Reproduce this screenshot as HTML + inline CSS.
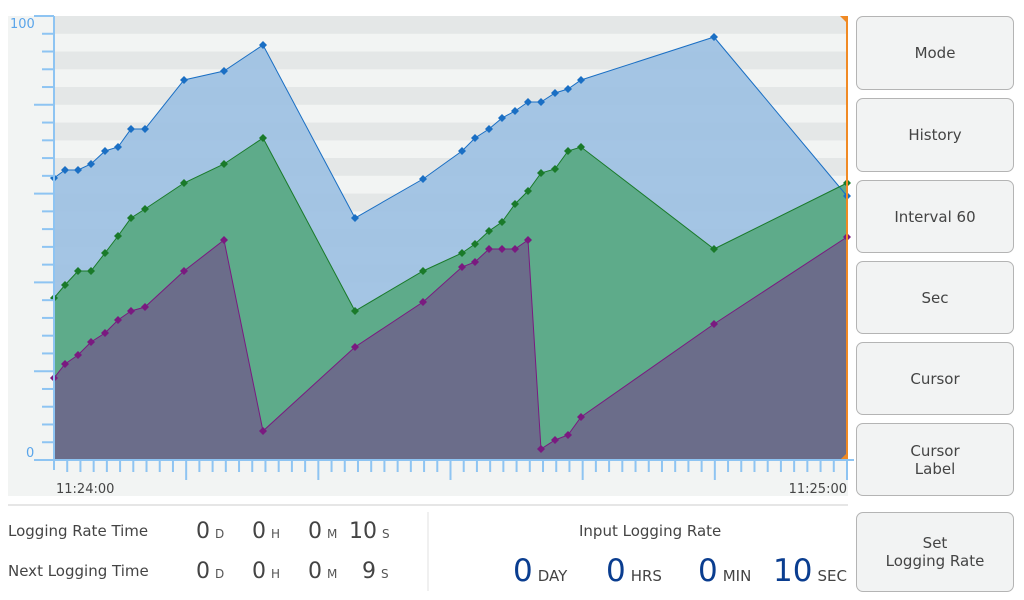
<!DOCTYPE html>
<html><head><meta charset="utf-8"><style>
body{margin:0;width:1024px;height:600px;background:#fff;font-family:"DejaVu Sans","Liberation Sans",sans-serif;position:relative;overflow:hidden}
.btn{position:absolute;left:856px;width:158px;border:1px solid #b4b4b4;border-radius:7px;background:#f2f3f3;color:#444;font-size:15px;display:flex;align-items:center;justify-content:center;text-align:center;line-height:18px;box-sizing:border-box}
.t{position:absolute;color:#444;font-size:15px;white-space:nowrap}
.n{font-size:22px;color:#444}
.u{font-size:12px;color:#555;margin-left:5px}
.b{font-size:31px;color:#0a3d8f}
.bu{font-size:15px;color:#444;margin-left:5px}
</style></head><body>
<svg width="1024" height="600" style="position:absolute;left:0;top:0">
<rect x="8" y="16" width="840" height="480" fill="#f2f4f3"/>
<g fill="#e4e7e7">
<rect x="54" y="16" width="793" height="17.8"/><rect x="54" y="51.5" width="793" height="17.8"/><rect x="54" y="87" width="793" height="17.8"/><rect x="54" y="122.6" width="793" height="17.8"/><rect x="54" y="158" width="793" height="17.8"/><rect x="54" y="193.6" width="793" height="17.8"/><rect x="54" y="229" width="793" height="17.8"/><rect x="54" y="264.7" width="793" height="17.8"/><rect x="54" y="300" width="793" height="17.8"/><rect x="54" y="335.8" width="793" height="17.8"/><rect x="54" y="371" width="793" height="17.8"/><rect x="54" y="406.9" width="793" height="17.8"/><rect x="54" y="442" width="793" height="17.8"/>
</g>
<polygon fill="#9fc2e3" fill-opacity="0.95" points="54,460 54,178 65,170 78,170 91,164 105,151 118,147 131,129 145,129 184,80 224,71 263,45 355,218 423,179 462,151 475,138 489,129 502,118 515,111 528,102 541,102 555,93 568,89 581,80 714,37 847,196 847,460"/>
<polygon fill="#5eab8a" points="54,460 54,298 65,285 78,271 91,271 105,253 118,236 131,218 145,209 184,183 224,164 263,138 355,311 423,271 462,253 475,244 489,231 502,222 515,204 528,191 541,173 555,169 568,151 581,147 714,249 847,183 847,460"/>
<polygon fill="#6b6d8a" points="54,460 54,378 65,364 78,355 91,342 105,333 118,320 131,311 145,307 184,271 224,240 263,431 355,347 423,302 462,267 475,262 489,249 502,249 515,249 528,240 541,449 555,440 568,435 581,417 714,324 847,237 847,460"/>
<g fill="none" stroke-width="1">
<polyline stroke="#1a6fc4" points="54,178 65,170 78,170 91,164 105,151 118,147 131,129 145,129 184,80 224,71 263,45 355,218 423,179 462,151 475,138 489,129 502,118 515,111 528,102 541,102 555,93 568,89 581,80 714,37 847,196"/>
<polyline stroke="#1a7a2a" points="54,298 65,285 78,271 91,271 105,253 118,236 131,218 145,209 184,183 224,164 263,138 355,311 423,271 462,253 475,244 489,231 502,222 515,204 528,191 541,173 555,169 568,151 581,147 714,249 847,183"/>
<polyline stroke="#7a1a80" points="54,378 65,364 78,355 91,342 105,333 118,320 131,311 145,307 184,271 224,240 263,431 355,347 423,302 462,267 475,262 489,249 502,249 515,249 528,240 541,449 555,440 568,435 581,417 714,324 847,237"/>
</g>
<g id="m"></g>
<line x1="847" y1="16" x2="847" y2="460" stroke="#f08a24" stroke-width="2"/>
<polygon points="840,16 848,16 848,24" fill="#f08a24"/>
<polygon points="840,460 848,460 848,452" fill="#f08a24"/>
<g stroke="#8ec4f2" stroke-width="2" id="ax">
<line x1="54" y1="16" x2="54" y2="470"/>
<line x1="34" y1="16" x2="54" y2="16"/>
<line x1="34" y1="460" x2="854" y2="460"/>
</g>
<text x="10" y="28" fill="#5aa5ea" font-size="13" font-family="DejaVu Sans">100</text>
<text x="26" y="457" fill="#5aa5ea" font-size="13" font-family="DejaVu Sans">0</text>
<text x="56" y="493" fill="#444" font-size="13" font-family="DejaVu Sans">11:24:00</text>
<text x="847" y="493" fill="#444" font-size="13" font-family="DejaVu Sans" text-anchor="end">11:25:00</text>
<line x1="8" y1="505" x2="848" y2="505" stroke="#e6e6e6" stroke-width="2"/>
<line x1="428" y1="512" x2="428" y2="591" stroke="#e0e0e0" stroke-width="1"/>
</svg>
<script>
var ns="http://www.w3.org/2000/svg",ax=document.getElementById('ax'),m=document.getElementById('m');
for(var i=1;i<25;i++){var y=16+i*444/25,l=document.createElementNS(ns,'line');var maj=(i%5==0);l.setAttribute('x1',maj?34:42);l.setAttribute('x2',54);l.setAttribute('y1',y);l.setAttribute('y2',y);ax.appendChild(l);}
for(var i=1;i<=60;i++){var x=54+i*793/60,l=document.createElementNS(ns,'line');l.setAttribute('x1',x);l.setAttribute('x2',x);l.setAttribute('y1',460);l.setAttribute('y2',i%10==0?480:472);ax.appendChild(l);}
var S=[["#1a6fc4","54,178 65,170 78,170 91,164 105,151 118,147 131,129 145,129 184,80 224,71 263,45 355,218 423,179 462,151 475,138 489,129 502,118 515,111 528,102 541,102 555,93 568,89 581,80 714,37 847,196"],["#1a7a2a","54,298 65,285 78,271 91,271 105,253 118,236 131,218 145,209 184,183 224,164 263,138 355,311 423,271 462,253 475,244 489,231 502,222 515,204 528,191 541,173 555,169 568,151 581,147 714,249 847,183"],["#7a1a80","54,378 65,364 78,355 91,342 105,333 118,320 131,311 145,307 184,271 224,240 263,431 355,347 423,302 462,267 475,262 489,249 502,249 515,249 528,240 541,449 555,440 568,435 581,417 714,324 847,237"]];
S.forEach(function(s){s[1].split(' ').forEach(function(p){var a=p.split(','),x=+a[0],y=+a[1],g=document.createElementNS(ns,'polygon');g.setAttribute('points',(x-4)+','+y+' '+x+','+(y-4)+' '+(x+4)+','+y+' '+x+','+(y+4));g.setAttribute('fill',s[0]);m.appendChild(g);});});
</script>
<div class="btn" style="top:16px;height:74px">Mode</div>
<div class="btn" style="top:98px;height:74px">History</div>
<div class="btn" style="top:180px;height:73px">Interval 60</div>
<div class="btn" style="top:261px;height:73px">Sec</div>
<div class="btn" style="top:342px;height:73px">Cursor</div>
<div class="btn" style="top:423px;height:73px">Cursor<br>Label</div>
<div class="btn" style="top:512px;height:80px">Set<br>Logging Rate</div>
<div class="t" style="left:8px;top:522px">Logging Rate Time</div>
<div class="t" style="left:8px;top:562px">Next Logging Time</div>
<div class="t" style="left:196px;top:519px"><span class="n">0</span><span class="u">D</span></div>
<div class="t" style="left:252px;top:519px"><span class="n">0</span><span class="u">H</span></div>
<div class="t" style="left:308px;top:519px"><span class="n">0</span><span class="u">M</span></div>
<div class="t" style="left:349px;top:519px"><span class="n">10</span><span class="u">S</span></div>
<div class="t" style="left:196px;top:559px"><span class="n">0</span><span class="u">D</span></div>
<div class="t" style="left:252px;top:559px"><span class="n">0</span><span class="u">H</span></div>
<div class="t" style="left:308px;top:559px"><span class="n">0</span><span class="u">M</span></div>
<div class="t" style="left:362px;top:559px"><span class="n">9</span><span class="u">S</span></div>
<div class="t" style="left:579px;top:522px">Input Logging Rate</div>
<div class="t" style="left:513px;top:553px"><span class="b">0</span><span class="bu">DAY</span></div>
<div class="t" style="left:606px;top:553px"><span class="b">0</span><span class="bu">HRS</span></div>
<div class="t" style="left:698px;top:553px"><span class="b">0</span><span class="bu">MIN</span></div>
<div class="t" style="left:773px;top:553px"><span class="b">10</span><span class="bu">SEC</span></div>
</body></html>
